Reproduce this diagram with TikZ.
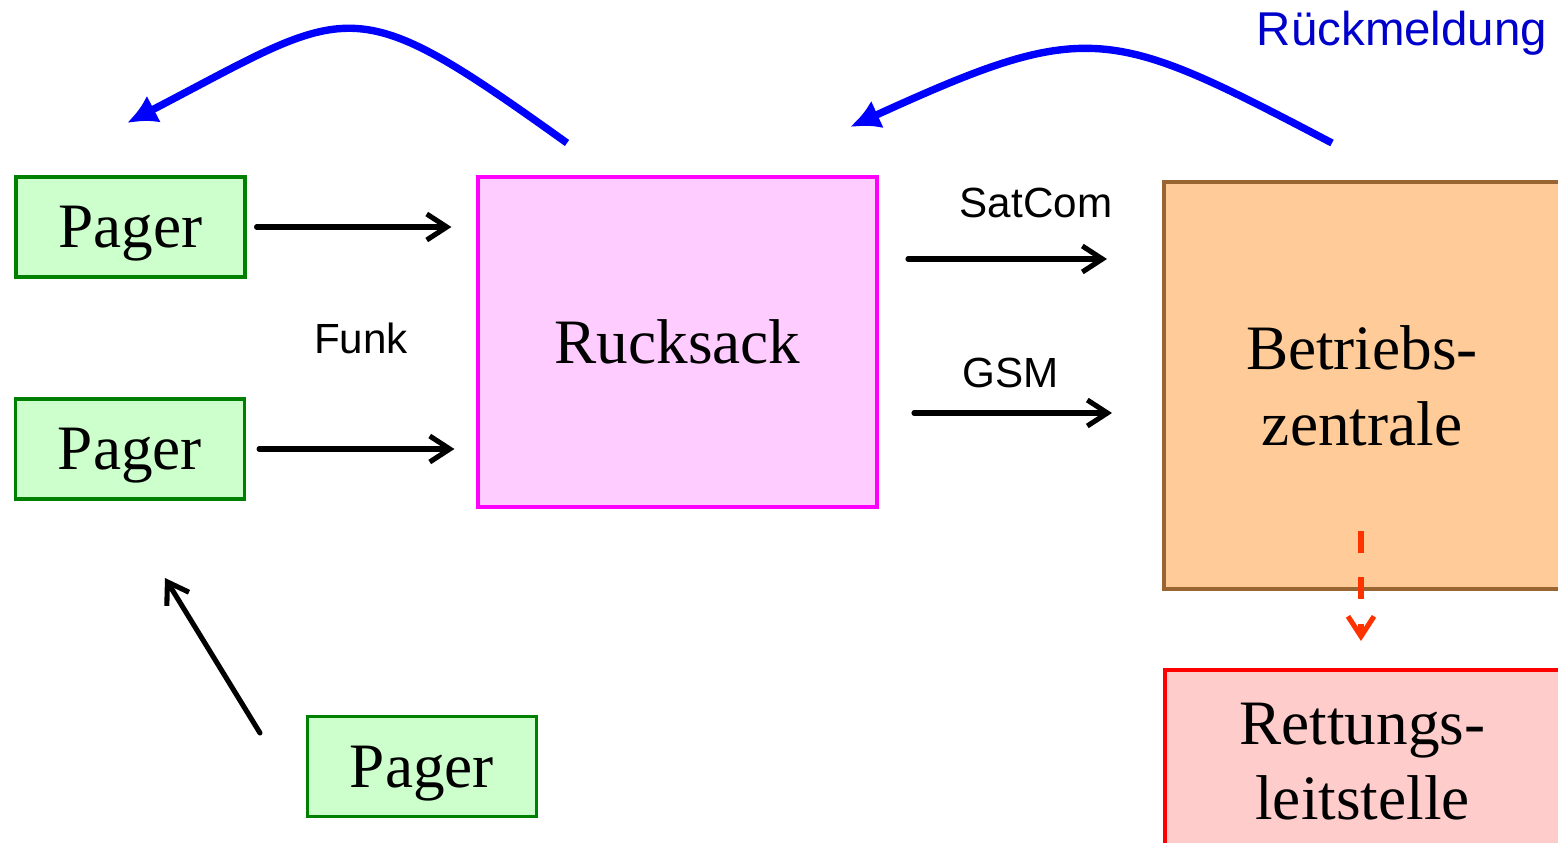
\documentclass[tikz,border=0pt]{standalone}
\usepackage{fontspec}
\setmainfont{Liberation Serif}
\setsansfont{Liberation Sans}
\usetikzlibrary{arrows.meta}
\definecolor{pagerline}{HTML}{008000}
\definecolor{pagerfill}{HTML}{CCFFCC}
\definecolor{rucksackline}{HTML}{FF00FF}
\definecolor{rucksackfill}{HTML}{FFCCFF}
\definecolor{zentraleline}{HTML}{996633}
\definecolor{zentralefill}{HTML}{FFCC99}
\definecolor{leitline}{HTML}{FF0000}
\definecolor{leitfill}{HTML}{FFCCCC}
\definecolor{alarmred}{HTML}{FF3300}
\definecolor{backblue}{HTML}{0000FF}
\definecolor{textblue}{HTML}{0000CC}

\begin{document}
\begin{tikzpicture}[
    box/.style={draw, line width=0.9pt, inner sep=0pt, align=center,
                text depth=0pt, font=\fontsize{18}{21.5}\selectfont},
    pager/.style={box, draw=pagerline, fill=pagerfill,
                  minimum width=2.29cm, minimum height=1cm},
    arr/.style={line width=1.45pt, line cap=round,
                -{Straight Barb[length=0.2cm,width=0.26cm]}},
    back/.style={draw=backblue, line width=2.1pt,
                 -{Latex[length=0.3cm,width=0.3cm]}},
    lbl/.style={font=\sffamily\fontsize{12}{14}\selectfont}
  ]
    \useasboundingbox (0,0) rectangle (15.58,-8.43);

    % Pager
    \node[pager] (p1) at (1.305,-2.27) {Pager};
    \node[pager] (p2) at (1.30,-4.49) {Pager};
    \node[pager] (p3) at (4.22,-7.665) {Pager};

    % Rucksack
    \node[box, draw=rucksackline, fill=rucksackfill,
          minimum width=3.99cm, minimum height=3.30cm]
          (ruck) at (6.775,-3.42) {Rucksack};

    % Betriebszentrale / Rettungsleitstelle
    \node[box, draw=zentraleline, fill=zentralefill,
          minimum width=3.96cm, minimum height=4.07cm]
          (bz) at (13.62,-3.855) {Betriebs-\\zentrale};
    \node[box, draw=leitline, fill=leitfill,
          minimum width=3.95cm, minimum height=1.83cm]
          (rl) at (13.625,-7.615) {Rettungs-\\leitstelle};

    % Funk
    \draw[arr] ([xshift=0.1cm]p1.east) -- ([xshift=-0.25cm]p1.east -| ruck.west);
    \draw[arr] ([xshift=0.13cm]p2.east) -- ([xshift=-0.22cm]p2.east -| ruck.west);
    \coordinate (p3tail) at (2.60,-7.33);
    \coordinate (p3tip) at (1.65,-5.78);
    \draw[arr] (p3tail) -- (p3tip);
    \node[lbl] (funk) at (3.61,-3.38) {Funk};

    % SatCom / GSM
    \coordinate (satA) at (9.08,-2.59);
    \coordinate (satB) at (11.07,-2.59);
    \coordinate (gsmA) at (9.14,-4.13);
    \coordinate (gsmB) at (11.12,-4.13);
    \draw[arr] (satA) -- (satB);
    \draw[arr] (gsmA) -- (gsmB);
    \node[lbl] (sat) at (10.36,-2.03) {SatCom};
    \node[lbl] (gsm) at (10.11,-3.73) {GSM};

    % Alarm
    \coordinate (alarmA) at (13.61,-5.31);
    \coordinate (alarmB) at (13.61,-6.41);
    \draw[arr, draw=alarmred, line cap=butt, dash pattern=on 6.2pt off 7pt]
         (alarmA) -- (alarmB);

    % Rueckmeldung
    \coordinate (r1A) at (5.67,-1.43);
    \coordinate (r1B) at (1.27,-1.23);
    \coordinate (r2A) at (13.32,-1.43);
    \coordinate (r2B) at (8.50,-1.27);
    \draw[back] (r1A) .. controls (3.48,0.14) and (3.54,-0.05) .. (r1B);
    \draw[back] (r2A) .. controls (11.09,-0.26) and (10.89,-0.18) .. (r2B);
    \node[font=\sffamily\fontsize{13.5}{16}\selectfont, text=textblue]
         (rueck) at (14.02,-0.33) {Rückmeldung};
\end{tikzpicture}
\end{document}
